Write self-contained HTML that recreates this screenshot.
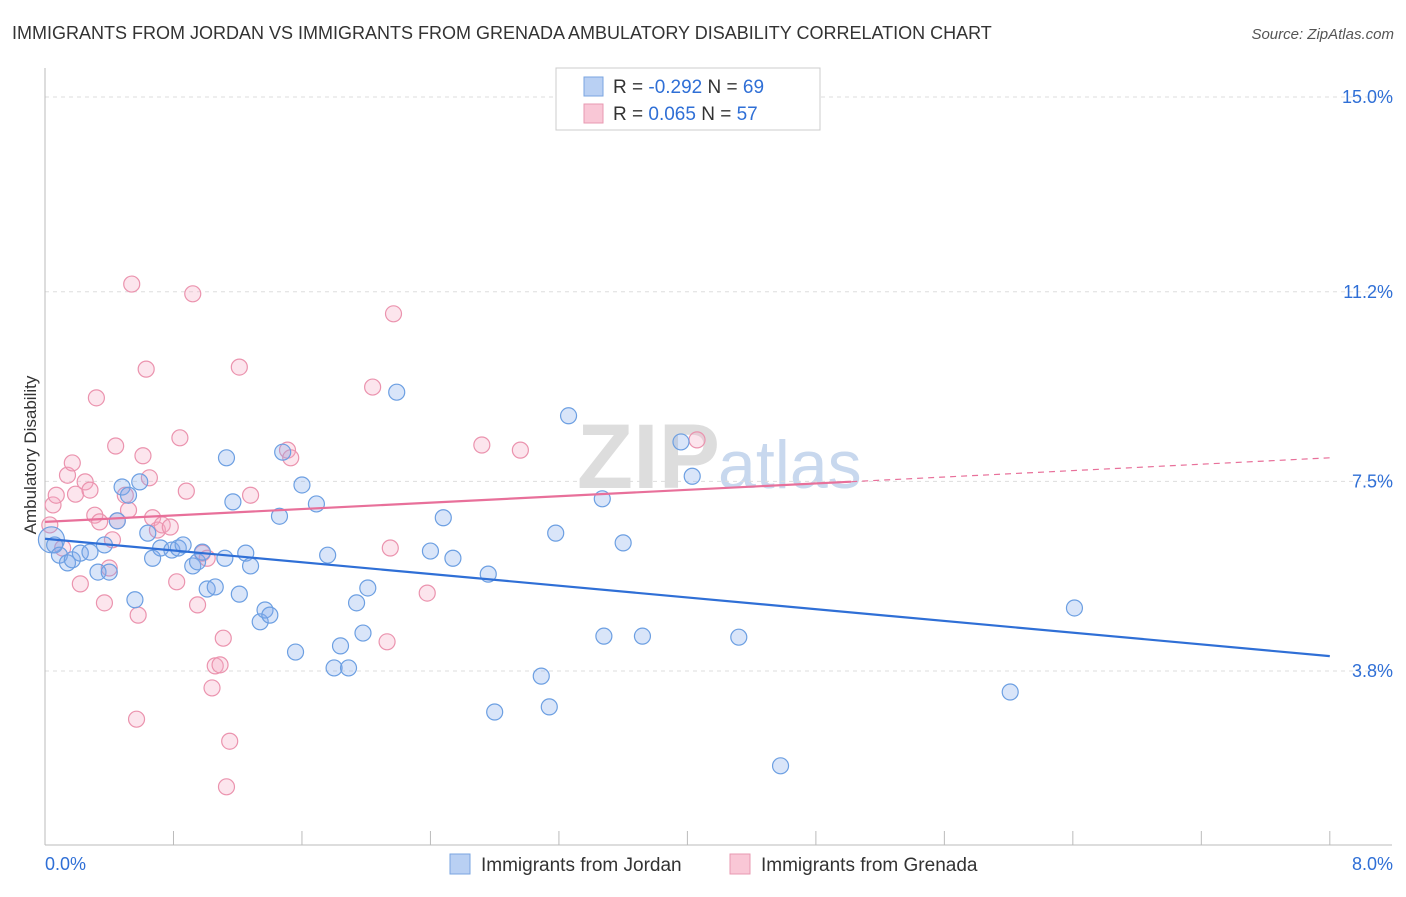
<!DOCTYPE html>
<html><head><meta charset="utf-8"><style>
body{margin:0;background:#fff;font-family:"Liberation Sans",sans-serif}
svg text{font-family:"Liberation Sans",sans-serif}
</style></head><body>
<svg id="c" width="1406" height="892" xmlns="http://www.w3.org/2000/svg">
<text x="12" y="39" font-size="18" fill="#333">IMMIGRANTS FROM JORDAN VS IMMIGRANTS FROM GRENADA AMBULATORY DISABILITY CORRELATION CHART</text>
<text x="1394" y="39" font-size="15" fill="#555" font-style="italic" text-anchor="end">Source: ZipAtlas.com</text>
<text x="36" y="455" font-size="17" fill="#333" transform="rotate(-90 36 455)" text-anchor="middle">Ambulatory Disability</text>
<text x="720" y="488" font-size="92" fill="#ddd" text-anchor="end" font-family="Liberation Serif" font-weight="bold">ZIP</text>
<text x="718" y="488" font-size="68" fill="#c8d8ee">atlas</text>
<g id="grid"></g><g id="pts"></g><g id="lines"></g>
<g>
<rect x="556" y="68" width="264" height="62" fill="#fff" stroke="#ccc"/>
<rect x="584" y="77" width="19" height="19" fill="#b9d0f3" stroke="#7aa5e0"/>
<rect x="584" y="104" width="19" height="19" fill="#f9c7d6" stroke="#e899b1"/>
<text x="613" y="93" font-size="19" fill="#333">R = <tspan fill="#2f6fd6">-0.292</tspan>   N = <tspan fill="#2f6fd6">69</tspan></text>
<text x="613" y="120" font-size="19" fill="#333">R =  <tspan fill="#2f6fd6">0.065</tspan>   N = <tspan fill="#2f6fd6">57</tspan></text>
</g>
<g>
<rect x="450" y="854" width="20" height="20" fill="#b9d0f3" stroke="#7aa5e0"/>
<text x="481" y="871" font-size="19" fill="#333">Immigrants from Jordan</text>
<rect x="730" y="854" width="20" height="20" fill="#f9c7d6" stroke="#e899b1"/>
<text x="761" y="871" font-size="19" fill="#333">Immigrants from Grenada</text>
</g>
</svg>
<script>
const yTicks=[15.0,11.2,7.5,3.8];
const yTickLabels=["15.0%","11.2%","7.5%","3.8%"];
const xTickLabels=["0.0%","8.0%"];
const jordanX=[0.04,0.06,0.09,0.14,0.17,0.22,0.28,0.33,0.37,0.40,0.45,0.48,0.52,0.56,0.59,0.64,0.67,0.72,0.79,0.83,0.86,0.92,0.95,0.98,1.01,1.06,1.12,1.13,1.17,1.21,1.25,1.28,1.34,1.37,1.40,1.46,1.48,1.56,1.60,1.69,1.76,1.80,1.84,1.89,1.94,1.98,2.01,2.19,2.40,2.48,2.54,2.76,2.80,3.09,3.14,3.18,3.26,3.47,3.48,3.60,3.72,3.96,4.03,4.32,4.58,6.01,6.41];
const jordanY=[6.36,6.26,6.06,5.91,5.97,6.10,6.12,5.73,6.26,5.73,6.73,7.39,7.23,5.19,7.49,6.49,6.00,6.20,6.16,6.20,6.26,5.85,5.93,6.12,5.40,5.44,6.00,7.96,7.10,5.30,6.10,5.85,4.76,4.99,4.89,6.82,8.07,4.17,7.43,7.06,6.06,3.86,4.29,3.86,5.13,4.54,5.42,9.24,6.14,6.79,6.00,5.69,3.00,3.70,3.10,6.49,8.78,7.16,4.48,6.30,4.48,8.27,7.60,4.46,1.95,3.39,5.03];
const grenadaX=[0.03,0.05,0.07,0.11,0.14,0.17,0.19,0.22,0.25,0.28,0.31,0.32,0.34,0.37,0.40,0.42,0.44,0.45,0.50,0.52,0.54,0.57,0.58,0.61,0.63,0.65,0.67,0.70,0.73,0.78,0.82,0.84,0.88,0.92,0.95,0.98,1.01,1.04,1.06,1.09,1.11,1.13,1.15,1.21,1.28,1.51,1.53,2.04,2.13,2.15,2.17,2.38,2.72,2.96,4.06];
const grenadaY=[6.65,7.04,7.23,6.20,7.62,7.86,7.25,5.50,7.49,7.33,6.84,9.13,6.71,5.13,5.81,6.36,8.19,6.73,7.23,6.94,11.35,2.86,4.89,8.00,9.69,7.57,6.79,6.55,6.65,6.61,5.54,8.35,7.31,11.16,5.09,6.10,6.00,3.47,3.90,3.92,4.44,1.54,2.43,9.73,7.23,8.11,7.96,9.34,4.37,6.20,10.77,5.32,8.21,8.11,8.31];
const jordanTrend=[6.38,4.09];
const grenadaTrend=[6.71,7.96];
const grenadaSolidEnd=5.02;
const NS="http://www.w3.org/2000/svg";
const xs=v=>45+v*160.6, ys=v=>97+(15-v)*51.25;
function mk(t,a,p){const e=document.createElementNS(NS,t);for(const k in a)e.setAttribute(k,a[k]);p.appendChild(e);return e;}
const grid=document.getElementById('grid');
yTicks.forEach((t,i)=>{
 const l=mk('line',{x1:45,x2:1392,y1:ys(t),y2:ys(t),stroke:'#ddd','stroke-dasharray':'4,4'},grid);
 
 
 const tx=mk('text',{x:1393,y:ys(t)+6,'font-size':18,fill:'#2f6fd6','text-anchor':'end'},grid);
 tx.textContent=yTickLabels[i];
 
 
});
const ax=mk('line',{x1:45,x2:1392,y1:845,y2:845,stroke:'#bbb'},grid);


const ay=mk('line',{x1:45,x2:45,y1:68,y2:845,stroke:'#bbb'},grid);


for(let i=0;i<=10;i++){
 const t=mk('line',{x1:xs(i*0.8),x2:xs(i*0.8),y1:831,y2:845,stroke:'#bbb'},grid);
 
 
}
[[0,'start',45],[8,'end',1393]].forEach((d,i)=>{
 const tx=mk('text',{x:d[2],y:870,'font-size':18,fill:'#2f6fd6','text-anchor':d[1]},grid);
 tx.textContent=xTickLabels[i];
 
 
});
const pts=document.getElementById('pts');
grenadaX.forEach((x,i)=>{
 const c=mk('circle',{cx:xs(x),cy:ys(grenadaY[i]),r:8,fill:'rgba(244,170,195,0.3)',stroke:'#eb93ae','stroke-width':1.2},pts);
 
 
});
jordanX.forEach((x,i)=>{
 const c=mk('circle',{cx:xs(x),cy:ys(jordanY[i]),r:i==0?13:8,fill:'rgba(130,170,235,0.3)',stroke:'#6c9fe2','stroke-width':1.2},pts);
 
 
});
const lines=document.getElementById('lines');
const bl=mk('line',{x1:xs(0),y1:ys(jordanTrend[0]),x2:xs(8),y2:ys(jordanTrend[1]),stroke:'#2f6fd6','stroke-width':2.2},lines);


const gy=x=>grenadaTrend[0]+(grenadaTrend[1]-grenadaTrend[0])*x/8;
const pl=mk('line',{x1:xs(0),y1:ys(gy(0)),x2:xs(grenadaSolidEnd),y2:ys(gy(grenadaSolidEnd)),stroke:'#e8709a','stroke-width':2.2},lines);


const pd=mk('line',{x1:xs(grenadaSolidEnd),y1:ys(gy(grenadaSolidEnd)),x2:xs(8),y2:ys(gy(8)),stroke:'#e8709a','stroke-width':1.2,'stroke-dasharray':'6,5'},lines);


</script>
</body></html>
